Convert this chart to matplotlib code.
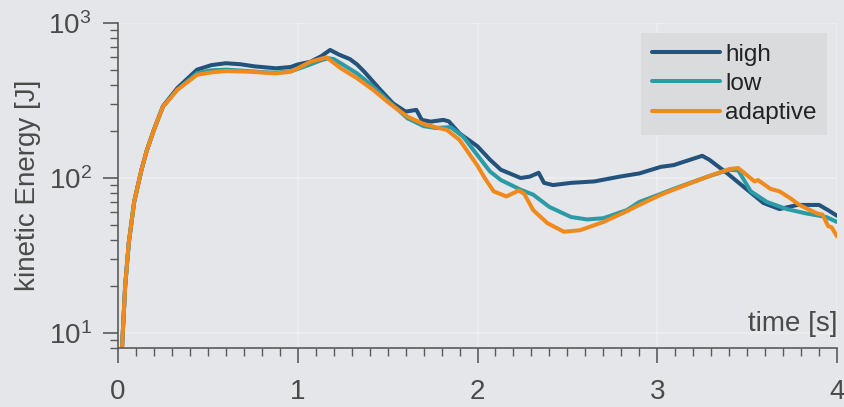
import matplotlib
matplotlib.use("Agg")
import matplotlib.pyplot as plt
from matplotlib.ticker import LogLocator, MultipleLocator, FixedLocator, FuncFormatter

plt.rcParams['font.family'] = ['Liberation Sans', 'DejaVu Sans']
plt.rcParams['mathtext.fontset'] = 'custom'
plt.rcParams['mathtext.rm'] = 'Liberation Sans'
plt.rcParams['mathtext.it'] = 'Liberation Sans:italic'

# kinetic energy traces for the three resolution settings
t_high = [0.02, 0.04, 0.06, 0.09, 0.13, 0.16, 0.20, 0.25, 0.33, 0.44, 0.52, 0.60, 0.68, 0.76,
          0.88, 0.96, 1.00, 1.07, 1.13, 1.18, 1.23, 1.29, 1.33, 1.37, 1.46, 1.53, 1.60, 1.66,
          1.69, 1.74, 1.81, 1.84, 1.90, 2.00, 2.07, 2.13, 2.24, 2.29, 2.34, 2.37, 2.42, 2.52,
          2.65, 2.79, 2.90, 3.02, 3.09, 3.25, 3.29, 3.39, 3.50, 3.59, 3.68, 3.78, 3.90, 3.95, 4.00]
e_high = [7, 20, 38, 70, 112, 150, 205, 290, 380, 500, 535, 550, 542, 525,
          510, 520, 540, 562, 610, 670, 625, 585, 540, 485, 370, 303, 268, 275,
          237, 231, 237, 232, 194, 160, 131, 113, 100, 102, 108, 93, 90, 93,
          95, 102, 107, 118, 121, 139, 131, 107, 84, 69, 63, 67, 67, 62, 57]

t_low = [0.02, 0.04, 0.06, 0.09, 0.13, 0.16, 0.20, 0.25, 0.33, 0.44, 0.52, 0.60, 0.70, 0.80,
         0.88, 0.96, 1.00, 1.07, 1.13, 1.17, 1.20, 1.25, 1.33, 1.42, 1.51, 1.61, 1.70, 1.77,
         1.85, 1.92, 2.00, 2.07, 2.13, 2.24, 2.31, 2.40, 2.52, 2.61, 2.70, 2.83, 2.90, 3.02,
         3.09, 3.28, 3.40, 3.45, 3.52, 3.61, 3.72, 3.83, 3.94, 4.00]
e_low = [7, 20, 38, 70, 112, 150, 204, 288, 372, 475, 495, 500, 492, 482,
         478, 488, 505, 540, 575, 592, 585, 540, 473, 388, 310, 243, 216, 210,
         213, 185, 140, 110, 97, 84, 78, 65, 56, 54, 55, 62, 70, 79,
         85, 102, 113, 112, 82, 70, 63, 59, 56, 52]

t_adaptive = [0.02, 0.04, 0.06, 0.09, 0.13, 0.16, 0.20, 0.25, 0.33, 0.44, 0.52, 0.60, 0.73, 0.88,
              0.96, 1.00, 1.07, 1.14, 1.16, 1.24, 1.33, 1.42, 1.51, 1.61, 1.70, 1.77, 1.83, 1.90,
              2.00, 2.04, 2.09, 2.16, 2.23, 2.26, 2.31, 2.39, 2.48, 2.57, 2.70, 2.83, 2.90, 3.02,
              3.09, 3.28, 3.40, 3.45, 3.50, 3.54, 3.56, 3.63, 3.68, 3.74, 3.79, 3.89, 3.92, 3.95,
              3.97, 4.00]
e_adaptive = [7, 20, 38, 70, 112, 150, 204, 288, 370, 463, 480, 490, 485, 473,
              485, 510, 562, 592, 600, 510, 440, 370, 303, 249, 223, 212, 204, 176,
              120, 100, 82, 76, 83, 79, 62, 51, 45, 46, 52, 61, 67, 78,
              84, 102, 114, 116, 104, 95, 97, 85, 82, 74, 67, 59, 58, 49,
              48, 42]

series_labels = ["high", "low", "adaptive"]
x_ticks = [0, 1, 2, 3, 4]
y_ticks = [10, 100, 1000]
y_tick_labels = [r"$10^{1}$", r"$10^{2}$", r"$10^{3}$"]

bg = "#e4e6e9"
grey = "#5a5a5a"
colors = ["#23527c", "#2b9ca6", "#f08a1c"]

fig = plt.figure(figsize=(8.45, 4.07), dpi=100, facecolor=bg)
ax = fig.add_axes([0.1396, 0.145, 0.851, 0.7985], facecolor=bg)

for t, e, lab, c in zip([t_high, t_low, t_adaptive], [e_high, e_low, e_adaptive],
                        series_labels, colors):
    ax.plot(t, e, color=c, lw=2.9, label=lab, solid_capstyle='round', solid_joinstyle='round')

ax.set_yscale('log')
ax.set_xlim(0, 4)
ax.set_ylim(8, 1000)

ax.xaxis.set_major_locator(FixedLocator(x_ticks))
ax.xaxis.set_minor_locator(MultipleLocator(0.1))
ax.yaxis.set_major_locator(FixedLocator(y_ticks))
ax.yaxis.set_major_formatter(FuncFormatter(lambda v, p: dict(zip(y_ticks, y_tick_labels)).get(int(round(v)), "")))
ax.yaxis.set_minor_locator(LogLocator(base=10, subs=range(2, 10)))

for s in ['top', 'right']:
    ax.spines[s].set_visible(False)
for s in ['left', 'bottom']:
    ax.spines[s].set_color(grey)
    ax.spines[s].set_linewidth(1.2)

ax.tick_params(which='major', direction='out', length=11, width=1.2, color=grey,
               labelsize=20, labelcolor="#4a4a4a", pad=8)
ax.tick_params(axis='x', which='major', pad=11)
ax.tick_params(which='minor', direction='out', length=6, width=1.0, color=grey)

ax.grid(True, which='major', color='white', lw=1.2, alpha=0.3)
ax.set_axisbelow(True)

ax.set_ylabel("kinetic Energy [J]", fontsize=20, color="#4a4a4a", labelpad=5)
ax.text(1.0, 0.035, "time [s]", transform=ax.transAxes, ha='right', va='bottom',
        fontsize=20, color="#4a4a4a")

leg = ax.legend(loc='upper right', fontsize=17.5, frameon=True, fancybox=False,
                handlelength=2.8, handletextpad=0.2, borderpad=0.45, labelspacing=0.3,
                borderaxespad=0.4)
leg.get_frame().set_facecolor("#d9dbdc")
leg.get_frame().set_edgecolor("none")
leg.get_frame().set_alpha(1)
for txt in leg.get_texts():
    txt.set_color("#222222")

fig.savefig("out.png", dpi=100, facecolor=bg)
